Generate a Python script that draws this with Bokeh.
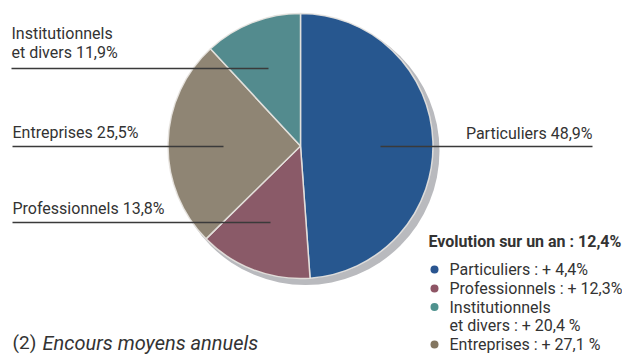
import math
from bokeh.plotting import figure
from bokeh.models import Range1d, ColumnDataSource
from bokeh.core.properties import value
from bokeh.embed import file_html
from bokeh.resources import INLINE

# ---- data ----
categories = ["Particuliers", "Professionnels", "Entreprises", "Institutionnels et divers"]
shares = [48.9, 13.8, 25.5, 11.9]
colors = ["#27578f", "#8a5a68", "#8f8574", "#538b8e"]
legend_names = ["Particuliers", "Professionnels", "Institutionnels\net divers", "Entreprises"]
legend_growth = ["+ 4,4%", "+ 12,3%", "+ 20,4 %", "+ 27,1 %"]
legend_colors = ["#2a5590", "#8e5565", "#4f928e", "#837660"]
total_growth = "12,4%"

W, H = 622, 354
FONT = "Roboto"
TXT = "#333333"

def Y(y):
    return H - y

p = figure(width=W, height=H, x_range=Range1d(0, W), y_range=Range1d(0, H),
           output_backend="svg", toolbar_location=None, min_border=0)
p.axis.visible = False
p.grid.visible = False
p.outline_line_color = None
p.background_fill_color = "white"
p.border_fill_color = "white"

cx, cy, r = 300, 145.5, 132.5

# shadow
p.circle(x=[cx + 5], y=[Y(cy + 5)], radius=r + 1.5, fill_color="#b9babe", line_color=None)

# pie wedges
tot = sum(shares)
starts, ends = [], []
c = 0.0
for s in shares:
    starts.append(math.pi / 2 - 2 * math.pi * c / tot)
    c += s
    ends.append(math.pi / 2 - 2 * math.pi * c / tot)
src = ColumnDataSource(dict(start=starts, end=ends, color=colors))
p.wedge(x=cx, y=Y(cy), radius=r, start_angle="start", end_angle="end",
        direction="clock", fill_color="color", line_color="#e8e4e0",
        line_width=1.5, line_alpha=0.9, source=src)

# leader lines and labels
def fmt(v):
    return f"{v:.1f}".replace(".", ",") + "%"

lines = [
    (11, 268, 68),    # Institutionnels
    (12, 223, 146),   # Entreprises
    (12, 270, 222),   # Professionnels
    (380, 592, 146),  # Particuliers
]
for x0, x1, yy in lines:
    p.line(x=[x0, x1], y=[Y(yy), Y(yy)], line_color="#3a3a3a", line_width=1.5)

lab_font = dict(text_font=value(FONT), text_font_size="16px", text_color=TXT,
                text_baseline="middle")
p.text(x=[11], y=[Y(33)], text=["Institutionnels"], **lab_font)
p.text(x=[11], y=[Y(51.5)], text=["et divers " + fmt(shares[3])], **lab_font)
p.text(x=[12], y=[Y(131.5)], text=[f"{categories[2]} " + fmt(shares[2])], **lab_font)
p.text(x=[12], y=[Y(208)], text=[f"{categories[1]} " + fmt(shares[1])], **lab_font)
p.text(x=[592], y=[Y(133)], text=[f"{categories[0]} " + fmt(shares[0])],
       text_align="right", **lab_font)

# legend block
p.text(x=[428], y=[Y(241)], text=["Evolution sur un an : " + total_growth],
       text_font_style="bold", **lab_font)
rows_y = [269, 288, 306.5, 344]
for name, g, col, yy in zip(legend_names, legend_growth, legend_colors, rows_y):
    p.scatter(x=[434], y=[Y(yy)], size=8, marker="circle", fill_color=col, line_color=None)
    parts = name.split("\n")
    if len(parts) == 1:
        p.text(x=[449], y=[Y(yy)], text=[f"{name} : {g}"], **lab_font)
    else:
        p.text(x=[449], y=[Y(yy)], text=[parts[0]], **lab_font)
        p.text(x=[449], y=[Y(yy + 18.7)], text=[f"{parts[1]} : {g}"], **lab_font)

# footnote
p.text(x=[12], y=[Y(342)], text=["(2)"], text_font=value(FONT), text_font_size="19px",
       text_color=TXT, text_baseline="middle")
p.text(x=[42], y=[Y(342)], text=["Encours moyens annuels"], text_font=value(FONT),
       text_font_size="20px", text_font_style="italic", text_color=TXT,
       text_baseline="middle")

open("out.html", "w").write(file_html(p, INLINE))
